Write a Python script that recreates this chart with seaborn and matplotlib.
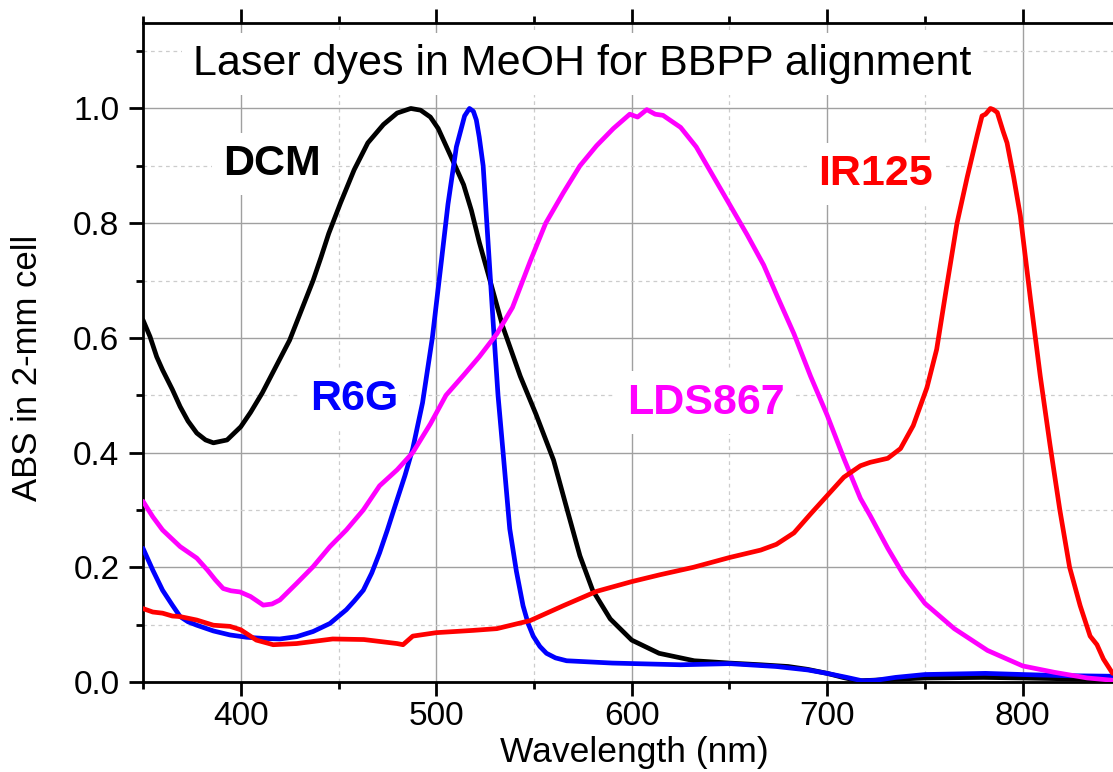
import matplotlib
matplotlib.use("Agg")
import matplotlib.pyplot as plt
import seaborn as sns
from matplotlib.ticker import MultipleLocator, FormatStrFormatter

# ---- data ----
dcm_wl = [350, 353.6, 357, 360, 365, 369, 373, 377.5, 382, 386, 393, 400, 405, 411, 418, 425, 431, 437, 441,
          445, 451, 458, 465, 473, 480, 487, 492, 497, 501, 505, 509, 514, 518, 522, 527.5, 534, 543, 551,
          560, 567, 573.5, 580, 589, 600, 614, 632, 650, 666, 680, 690, 700, 708, 716, 730, 750, 780, 800,
          830, 846]
dcm_abs = [0.631, 0.602, 0.567, 0.544, 0.51, 0.48, 0.455, 0.434, 0.422, 0.417, 0.422, 0.445, 0.47, 0.504,
           0.55, 0.596, 0.648, 0.70, 0.74, 0.782, 0.835, 0.893, 0.94, 0.972, 0.992, 1.0, 0.997, 0.985, 0.965,
           0.935, 0.905, 0.867, 0.822, 0.767, 0.70, 0.62, 0.533, 0.467, 0.387, 0.30, 0.22, 0.160, 0.110,
           0.073, 0.05, 0.037, 0.033, 0.030, 0.027, 0.022, 0.015, 0.008, 0.002, 0.004, 0.007, 0.008, 0.007,
           0.005, 0.003]

r6g_wl = [350, 355, 360, 365, 369, 373, 377.5, 386, 394.5, 403, 411.5, 420, 428.6, 437, 445.6, 454, 458,
          462.7, 467, 471, 475, 479.7, 484, 488, 493, 498, 502.6, 506, 510.3, 514.5, 517, 519, 520.5, 522,
          524, 526.5, 529, 531.6, 534.2, 537.6, 541, 544.4, 547, 549.6, 553, 556.4, 561, 566.7, 590, 625,
          650, 674, 690, 700, 710, 718, 725, 735, 750, 781, 800, 822, 846]
r6g_abs = [0.233, 0.195, 0.16, 0.134, 0.114, 0.105, 0.099, 0.089, 0.082, 0.078, 0.076, 0.075, 0.079, 0.088,
           0.102, 0.126, 0.141, 0.16, 0.19, 0.225, 0.265, 0.315, 0.36, 0.407, 0.487, 0.60, 0.733, 0.833,
           0.933, 0.987, 1.0, 0.995, 0.98, 0.95, 0.90, 0.767, 0.633, 0.50, 0.40, 0.267, 0.193, 0.133, 0.102,
           0.08, 0.062, 0.05, 0.042, 0.037, 0.033, 0.03, 0.032, 0.027, 0.021, 0.015, 0.008, 0.002, 0.003,
           0.008, 0.013, 0.015, 0.013, 0.011, 0.010]

lds_wl = [350, 355, 360, 369, 377.5, 383, 387, 391, 395, 399.6, 405, 411.5, 416, 420, 428.6, 437, 445.6, 454,
          462.7, 471, 480, 488, 497, 505, 514, 522, 531, 539, 548, 556, 565, 573.5, 582, 590.6, 599, 603,
          607.7, 612, 616, 625, 633, 642, 650, 659, 667.5, 674.4, 683, 691.5, 700, 708.5, 717, 722, 731,
          739, 750, 765, 782, 800, 816, 833, 846]
lds_abs = [0.315, 0.288, 0.265, 0.236, 0.216, 0.195, 0.178, 0.163, 0.159, 0.157, 0.149, 0.134, 0.136, 0.143,
           0.172, 0.201, 0.236, 0.265, 0.30, 0.342, 0.37, 0.40, 0.45, 0.50, 0.535, 0.567, 0.607, 0.653, 0.733,
           0.80, 0.853, 0.90, 0.935, 0.965, 0.99, 0.985, 0.998, 0.99, 0.988, 0.967, 0.933, 0.88, 0.833, 0.78,
           0.727, 0.673, 0.607, 0.533, 0.465, 0.39, 0.32, 0.29, 0.233, 0.187, 0.137, 0.093, 0.055, 0.028,
           0.017, 0.007, 0.003]

ir_wl = [350, 355, 360, 365, 369, 377.5, 386, 394.5, 400, 404, 408, 416.6, 428.6, 447, 463, 480, 483, 488,
         500, 519, 531, 548, 565, 582, 600, 614.5, 631.6, 650, 666, 674, 683, 691.5, 700, 708.5, 717, 722,
         731, 737.5, 744, 751, 756, 761, 766.4, 771.6, 776.7, 779.2, 781, 783.5, 785, 787, 790, 792, 795.4,
         798.8, 804, 809, 814, 819, 824, 829.4, 834.5, 838, 841.3, 846]
ir_abs = [0.128, 0.122, 0.12, 0.115, 0.114, 0.108, 0.099, 0.097, 0.091, 0.082, 0.073, 0.065, 0.067, 0.075,
          0.074, 0.067, 0.065, 0.08, 0.086, 0.09, 0.093, 0.107, 0.133, 0.158, 0.175, 0.187, 0.20, 0.217,
          0.23, 0.24, 0.26, 0.293, 0.325, 0.357, 0.377, 0.383, 0.39, 0.407, 0.447, 0.513, 0.58, 0.687, 0.80,
          0.88, 0.953, 0.987, 0.99, 1.0, 0.998, 0.993, 0.96, 0.94, 0.88, 0.813, 0.667, 0.533, 0.413, 0.30,
          0.20, 0.133, 0.08, 0.065, 0.04, 0.015]

dye_names = ["DCM", "R6G", "LDS867", "IR125"]
dye_colors = ["#000000", "#0000FF", "#FF00FF", "#FF0000"]
title_text = "Laser dyes in MeOH for BBPP alignment"
x_label = "Wavelength (nm)"
y_label = "ABS in 2-mm cell"

# ---- style ----
sns.set_style("ticks")
plt.rcParams["font.family"] = ["Liberation Sans", "DejaVu Sans"]

fig = plt.figure(figsize=(11.13, 7.72), dpi=100)
ax = fig.add_axes([0.1285, 0.1166, 0.8715, 0.8536])

series = [(dcm_wl, dcm_abs), (r6g_wl, r6g_abs), (lds_wl, lds_abs), (ir_wl, ir_abs)]
for (wl, ab), col in zip(series, dye_colors):
    sns.lineplot(x=wl, y=ab, ax=ax, color=col, linewidth=3.4, zorder=3, estimator=None, sort=False)

ax.set_xlim(350, 846.2)
ax.set_ylim(0, 1.149)
ax.xaxis.set_major_locator(MultipleLocator(100))
ax.xaxis.set_minor_locator(MultipleLocator(50))
ax.yaxis.set_major_locator(MultipleLocator(0.2))
ax.yaxis.set_minor_locator(MultipleLocator(0.1))
ax.yaxis.set_major_formatter(FormatStrFormatter("%.1f"))

ax.set_axisbelow(True)
ax.grid(which="major", color="#a0a0a0", linewidth=1.0, linestyle="-")
ax.grid(which="minor", color="#cccccc", linewidth=0.9, linestyle=(0, (3, 3)))

for side in ["left", "bottom", "top"]:
    ax.spines[side].set_visible(True)
    ax.spines[side].set_linewidth(2)
    ax.spines[side].set_color("black")
ax.spines["right"].set_visible(False)

ax.tick_params(axis="both", which="major", direction="out", length=10, width=2, labelsize=24,
               colors="black")
ax.tick_params(axis="both", which="minor", direction="out", length=5, width=2, colors="black")
ax.tick_params(axis="x", which="major", pad=4)
ax.tick_params(axis="y", which="major", pad=7)
ax.tick_params(axis="x", which="both", top=True, labeltop=False)

ax.set_xlabel(x_label, fontsize=25.5, va="top", color="black")
ax.xaxis.set_label_coords(0.507, -0.082)
ax.set_ylabel(y_label, fontsize=25, va="center", color="black")
ax.yaxis.set_label_coords(-0.1186, 0.476)

box = dict(facecolor="white", edgecolor="none", pad=8)
ax.text(574.8, 1.058, title_text, fontsize=31, ha="center", va="baseline", color="black",
        bbox=box, zorder=2)
label_pos = [(416.2, 0.884), (458, 0.474), (637.9, 0.468), (724.8, 0.867)]
for name, col, (lx, ly) in zip(dye_names, dye_colors, label_pos):
    ax.text(lx, ly, name, fontsize=31, fontweight="bold", color=col, ha="center", va="baseline",
            bbox=box, zorder=2)

fig.savefig("out.png", dpi=100)
